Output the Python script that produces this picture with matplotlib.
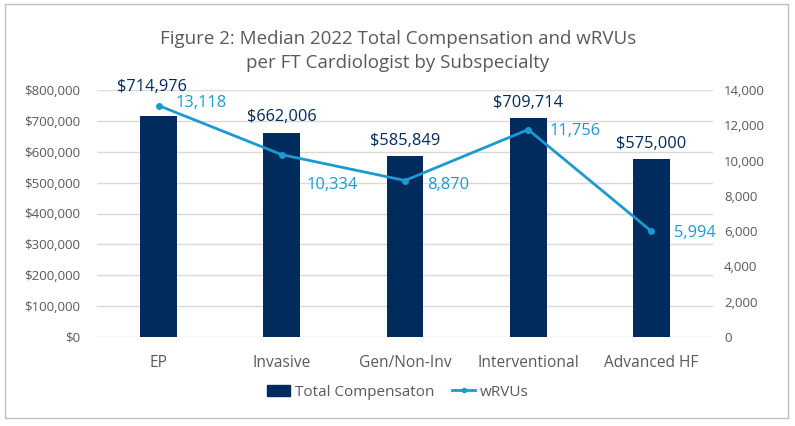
import matplotlib
matplotlib.use("Agg")
import matplotlib.pyplot as plt
from matplotlib.patches import Rectangle
from matplotlib.lines import Line2D
from matplotlib.ticker import FuncFormatter, MultipleLocator

categories = ["EP", "Invasive", "Gen/Non-Inv", "Interventional", "Advanced HF"]
compensation = [714976, 662006, 585849, 709714, 575000]
wrvus = [13118, 10334, 8870, 11756, 5994]
title = "Figure 2: Median 2022 Total Compensation and wRVUs\nper FT Cardiologist by Subspecialty"
legend_labels = ["Total Compensaton", "wRVUs"]

# label offsets (points) - styling only
bar_label_offsets = [(-5, 21), (0, 11), (0, 11), (0, 11), (0, 11)]
line_label_offsets = [(12, 2), (18, -22), (16, -3), (15, -1), (16, -1)]

NAVY = "#002B5C"
CYAN = "#1A9AD0"
GRAY = "#595959"
GRID = "#D9D9D9"

plt.rcParams['font.family'] = ['Open Sans', 'DejaVu Sans']

fig = plt.figure(figsize=(7.95, 4.26), dpi=100)
fig.patches.append(Rectangle((5/795, 1 - 418/426), 783/795, 414/426,
                             transform=fig.transFigure, fill=False,
                             edgecolor="#BFBFBF", linewidth=1.0))

ax = fig.add_axes([97/795, 1 - 337/426, 616/795, 247/426])
ax2 = ax.twinx()

x = list(range(len(categories)))
ax.bar(x, compensation, width=0.30, color=NAVY, zorder=2)
ax.set_xlim(-0.5, len(categories) - 0.5)
ax.set_ylim(0, 800000)
ax.yaxis.set_major_locator(MultipleLocator(100000))
ax.yaxis.set_major_formatter(FuncFormatter(lambda v, p: f"${v:,.0f}"))
ax.grid(axis="y", color=GRID, linewidth=1, zorder=0)
ax.set_axisbelow(True)
ax.set_xticks(x)
ax.set_xticklabels(categories, fontsize=11.2, color=GRAY)
ax.tick_params(axis="x", length=0, pad=13)
ax.tick_params(axis="y", length=0, labelsize=9.5, labelcolor=GRAY, pad=12)
for s in ax.spines.values():
    s.set_visible(False)

ax2.plot(x, wrvus, color=CYAN, linewidth=2, marker="o", markersize=4, zorder=3)
ax2.set_ylim(0, 14000)
ax2.yaxis.set_major_locator(MultipleLocator(2000))
ax2.yaxis.set_major_formatter(FuncFormatter(lambda v, p: f"{v:,.0f}"))
ax2.tick_params(axis="y", length=0, labelsize=9.5, labelcolor=GRAY, pad=8)
for s in ax2.spines.values():
    s.set_visible(False)

for xi, v, off in zip(x, compensation, bar_label_offsets):
    ax.annotate(f"${v:,.0f}", (xi, v), xytext=off, textcoords="offset points",
                ha="center", va="center", fontsize=11.8, color=NAVY)
for xi, v, off in zip(x, wrvus, line_label_offsets):
    ax2.annotate(f"{v:,.0f}", (xi, v), xytext=off, textcoords="offset points",
                 ha="left", va="center", fontsize=11.8, color=CYAN)

fig.text(398/795, 1 - 51/426, title, ha="center", va="center",
         fontsize=13.5, color=GRAY, linespacing=1.4)

handles = [Rectangle((0, 0), 1, 1, color=NAVY),
           Line2D([0], [0], color=CYAN, linewidth=2, marker="o", markersize=3)]
fig.legend(handles, legend_labels, loc="center", bbox_to_anchor=(398/795, 1 - 392/426),
           ncol=2, frameon=False, fontsize=11, labelcolor=GRAY,
           handlelength=1.5, handletextpad=0.3, columnspacing=1.2)

fig.savefig("out.png", dpi=100)
